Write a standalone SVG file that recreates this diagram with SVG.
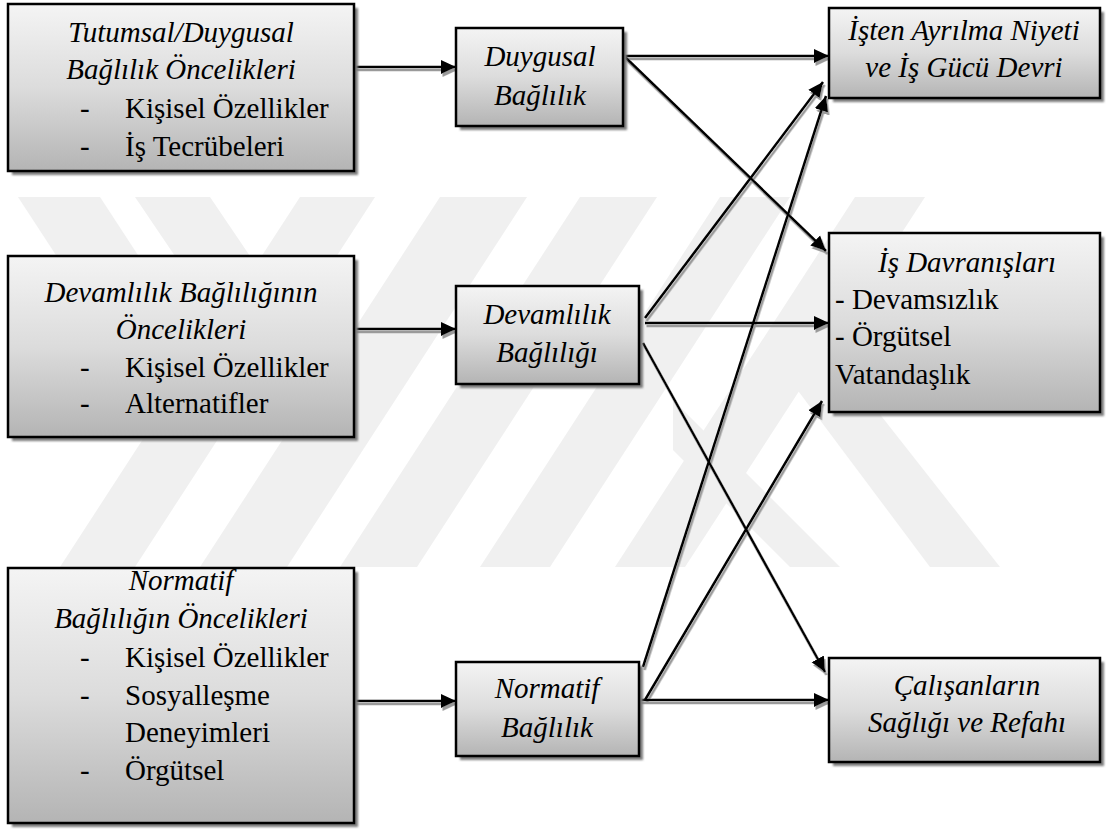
<svg xmlns="http://www.w3.org/2000/svg" width="1108" height="830" viewBox="0 0 1108 830">
  <defs>
    <linearGradient id="boxFill" x1="0" y1="0" x2="0" y2="1">
      <stop offset="0" stop-color="#f4f4f4"/>
      <stop offset="0.5" stop-color="#dcdcdc"/>
      <stop offset="1" stop-color="#b4b4b4"/>
    </linearGradient>
    <filter id="boxShadow" x="-5%" y="-5%" width="115%" height="115%">
      <feGaussianBlur stdDeviation="1"/>
    </filter>
    <filter id="lineShadow" x="-10%" y="-10%" width="120%" height="120%">
      <feDropShadow dx="1.5" dy="3" stdDeviation="0.6" flood-color="#9a9a9a"/>
    </filter>
    <marker id="arrow" markerUnits="userSpaceOnUse" markerWidth="16" markerHeight="16" viewBox="0 0 16 16" refX="15" refY="8" orient="auto">
      <path d="M0,1 L15,8 L0,15 Z" fill="#000"/>
    </marker>
  </defs>
  <style>
    .wm { fill: #f0f0f0; }
    .shadow { fill: #7c7c7c; filter: url(#boxShadow); }
    .box { fill: url(#boxFill); stroke: #000; stroke-width: 2.5; }
    .t { font-family: 'Liberation Serif', 'Times New Roman', serif; font-size: 29px; fill: #000; }
    .c { text-anchor: middle; }
    .i { font-style: italic; }
    .conn line { stroke: #000; stroke-width: 2.5; marker-end: url(#arrow); }
  </style>

  <rect width="1108" height="830" fill="#fff"/>

  <!-- faint background logo -->
  <g id="watermark">
    <polygon class="wm" points="18,197 100,197 200,350 118,350"/>
    <polygon class="wm" points="135,197 210,197 300,330 225,330"/>
    <polygon class="wm" points="300,197 375,197 135,567 60,567"/>
    <polygon class="wm" points="440,197 527,197 287,567 200,567"/>
    <polygon class="wm" points="580,197 657,197 417,567 340,567"/>
    <polygon class="wm" points="720,197 790,197 550,567 480,567"/>
    <polygon class="wm" points="855,197 925,197 685,567 615,567"/>
    <polygon class="wm" points="673,400 840,567 790,567 673,450"/>
    <polygon class="wm" points="790,300 1000,567 930,567 790,380"/>
  </g>

  <!-- connectors -->
  <g id="connectors" class="conn" filter="url(#lineShadow)">
    <line x1="354" y1="67" x2="456" y2="67"/>
    <line x1="354" y1="329" x2="456" y2="329"/>
    <line x1="354" y1="701" x2="456" y2="701"/>
    <line x1="623" y1="56" x2="829" y2="56"/>
    <line x1="625" y1="57" x2="826" y2="251"/>
    <line x1="645" y1="318" x2="823" y2="82"/>
    <line x1="645" y1="323" x2="829" y2="323"/>
    <line x1="643" y1="343" x2="825" y2="672"/>
    <line x1="643" y1="667" x2="826" y2="96"/>
    <line x1="645" y1="700" x2="822" y2="401"/>
    <line x1="639" y1="700" x2="829" y2="700"/>
  </g>

  <!-- left column -->
  <g id="node-tutumsal">
    <rect class="shadow" x="12" y="8" width="346" height="167"/>
    <rect class="box" x="8" y="4" width="346" height="167"/>
    <text class="t c i" x="181" y="42">Tutumsal/Duygusal</text>
    <text class="t c i" x="181" y="79">Bağlılık Öncelikleri</text>
    <text class="t" x="80" y="118">-</text>
    <text class="t" x="125" y="118">Kişisel Özellikler</text>
    <text class="t" x="80" y="156">-</text>
    <text class="t" x="125" y="156">İş Tecrübeleri</text>
  </g>

  <g id="node-devamlilik-oncelik">
    <rect class="shadow" x="12" y="260" width="346" height="181"/>
    <rect class="box" x="8" y="256" width="346" height="181"/>
    <text class="t c i" x="181" y="302">Devamlılık Bağlılığının</text>
    <text class="t c i" x="181" y="339">Öncelikleri</text>
    <text class="t" x="80" y="377">-</text>
    <text class="t" x="125" y="377">Kişisel Özellikler</text>
    <text class="t" x="80" y="413">-</text>
    <text class="t" x="125" y="413">Alternatifler</text>
  </g>

  <g id="node-normatif-oncelik">
    <rect class="shadow" x="12" y="572" width="346" height="255"/>
    <rect class="box" x="8" y="568" width="346" height="255"/>
    <text class="t c i" x="181" y="590">Normatif</text>
    <text class="t c i" x="181" y="628">Bağlılığın Öncelikleri</text>
    <text class="t" x="80" y="667">-</text>
    <text class="t" x="125" y="667">Kişisel Özellikler</text>
    <text class="t" x="80" y="705">-</text>
    <text class="t" x="125" y="705">Sosyalleşme</text>
    <text class="t" x="125" y="742">Deneyimleri</text>
    <text class="t" x="80" y="780">-</text>
    <text class="t" x="125" y="780">Örgütsel</text>
  </g>

  <!-- middle column -->
  <g id="node-duygusal">
    <rect class="shadow" x="460" y="32" width="167" height="98"/>
    <rect class="box" x="456" y="28" width="167" height="98"/>
    <text class="t c i" x="540" y="66">Duygusal</text>
    <text class="t c i" x="540" y="105">Bağlılık</text>
  </g>

  <g id="node-devamlilik">
    <rect class="shadow" x="460" y="290" width="183" height="98"/>
    <rect class="box" x="456" y="286" width="183" height="98"/>
    <text class="t c i" x="547" y="324">Devamlılık</text>
    <text class="t c i" x="547" y="362">Bağlılığı</text>
  </g>

  <g id="node-normatif">
    <rect class="shadow" x="460" y="666" width="183" height="94"/>
    <rect class="box" x="456" y="662" width="183" height="94"/>
    <text class="t c i" x="547" y="698">Normatif</text>
    <text class="t c i" x="547" y="737">Bağlılık</text>
  </g>

  <!-- right column -->
  <g id="node-isten-ayrilma">
    <rect class="shadow" x="833" y="12" width="271" height="90"/>
    <rect class="box" x="829" y="8" width="271" height="90"/>
    <text class="t c i" x="964" y="40">İşten Ayrılma Niyeti</text>
    <text class="t c i" x="964" y="77">ve İş Gücü Devri</text>
  </g>

  <g id="node-is-davranislari">
    <rect class="shadow" x="833" y="237" width="271" height="179"/>
    <rect class="box" x="829" y="233" width="271" height="179"/>
    <text class="t c i" x="967" y="272">İş Davranışları</text>
    <text class="t" x="835" y="309">- Devamsızlık</text>
    <text class="t" x="835" y="346">- Örgütsel</text>
    <text class="t" x="835" y="384">Vatandaşlık</text>
  </g>

  <g id="node-calisanlar">
    <rect class="shadow" x="833" y="662" width="271" height="104"/>
    <rect class="box" x="829" y="658" width="271" height="104"/>
    <text class="t c i" x="967" y="695">Çalışanların</text>
    <text class="t c i" x="967" y="732">Sağlığı ve Refahı</text>
  </g>
</svg>
